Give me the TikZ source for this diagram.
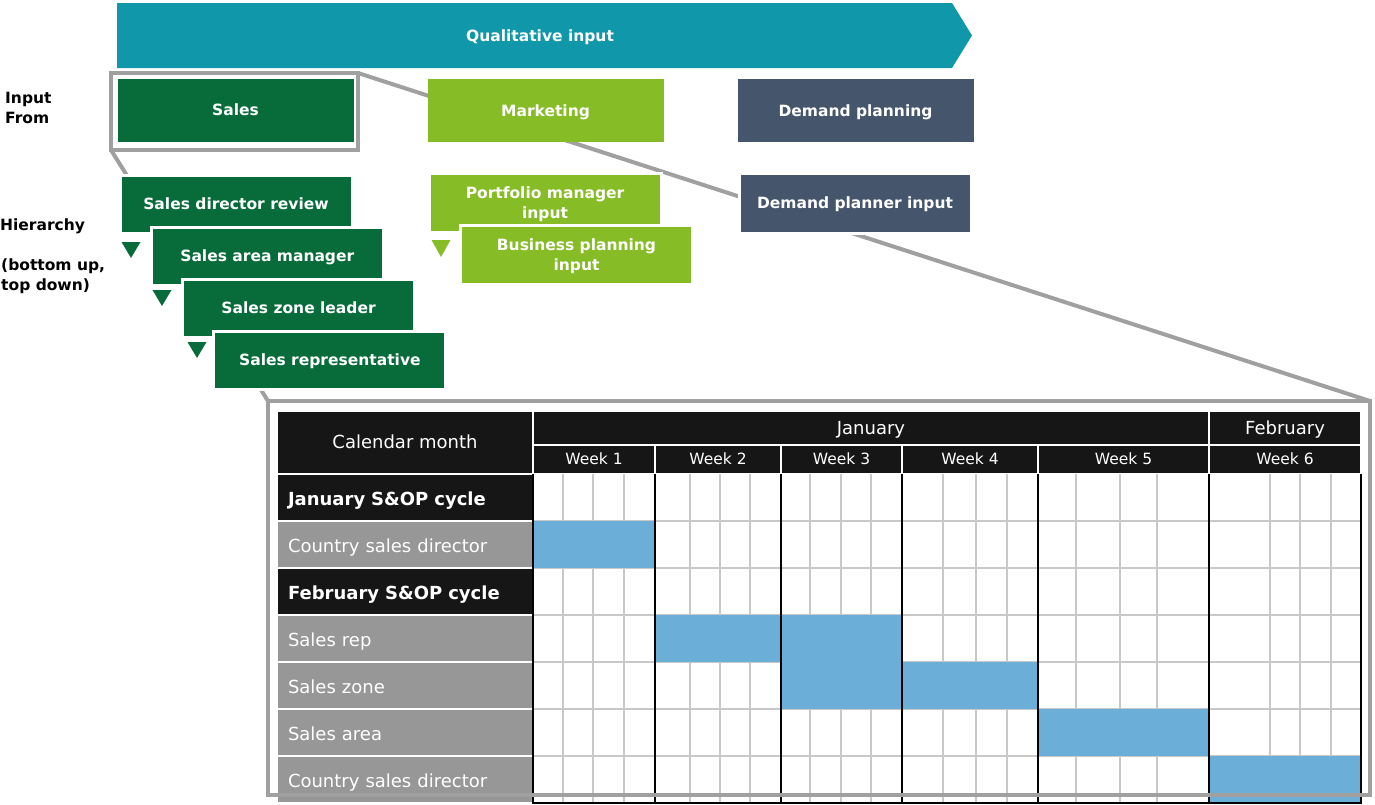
\documentclass[tikz,border=0pt]{standalone}
\usepackage{fontspec}
\setmainfont{DejaVu Sans}
\usetikzlibrary{positioning}

\definecolor{qualteal}{HTML}{1098AA}
\definecolor{salesgreen}{HTML}{086C3A}
\definecolor{mktgreen}{HTML}{86BC25}
\definecolor{planslate}{HTML}{45556C}
\definecolor{framegray}{HTML}{A0A0A0}
\definecolor{tblblack}{HTML}{161616}
\definecolor{rolegray}{HTML}{979797}
\definecolor{barblue}{HTML}{6BAFD8}
\definecolor{gridgray}{HTML}{C8C8C8}

\newcommand\boxfont{\fontsize{15.5}{20}\selectfont\bfseries}
\newcommand\tblfont{\fontsize{18}{22}\selectfont}
\newcommand\tblbold{\fontsize{18}{22}\selectfont\bfseries}
\newcommand\weekfont{\fontsize{15.5}{20}\selectfont}

\tikzset{
  box/.style={draw=white, line width=3pt, inner sep=0pt, outer sep=0pt, text=white, font=\boxfont, align=center, text depth=0pt},
  topbox/.style={box, minimum width=236pt, minimum height=63pt},
  hierbox/.style={box, fill=salesgreen, minimum width=232pt, minimum height=58pt},
  mktbox/.style={box, fill=mktgreen, minimum width=232pt, minimum height=59pt},
  framebox/.style={draw=framegray, line width=4pt, inner sep=0pt, outer sep=0pt},
  zoomline/.style={draw=framegray, line width=4pt},
  sidelabel/.style={inner sep=0pt, font=\boxfont, align=left, anchor=west, text depth=0pt},
  headcell/.style={fill=tblblack, draw=white, line width=1.5pt, inner sep=0pt, outer sep=0pt, text=white, font=\tblfont, anchor=north west, text height=14pt, text depth=2pt},
  rowcell/.style={draw=white, line width=1.5pt, inner xsep=11pt, inner ysep=0pt, outer sep=0pt, text=white, minimum width=256pt, minimum height=47pt, text width=234pt, align=left, anchor=north west, text height=16pt, text depth=1pt},
  gridline/.style={draw=gridgray, line width=1.5pt},
  weekline/.style={draw=black, line width=1.5pt}
}

\begin{document}
\begin{tikzpicture}[x=1pt,y=-1pt]
\useasboundingbox (0,0) rectangle (1375,804);

% table header
\node[headcell, minimum width=256pt, minimum height=63pt] (calmonth) at (277,411) {Calendar month};
\node[headcell, minimum width=676pt, minimum height=34pt] (jan) at (533,411) {January};
\node[headcell, minimum width=152pt, minimum height=34pt] (feb) at (1209,411) {February};
\foreach \a/\b/\n in {533/655/1,655/781/2,781/902/3,902/1038/4,1038/1209/5,1209/1361/6}
  \node[headcell, font=\weekfont, text height=12pt, minimum width={(\b-\a)*1pt}, minimum height=29pt] (week\n) at (\a,445) {Week \n};

% row labels
\foreach \i/\txt in {0/January S\&OP cycle,2/February S\&OP cycle}
  \node[rowcell, fill=tblblack, font=\tblbold] (row\i) at (277,474+47*\i) {\txt};
\foreach \i/\txt in {1/Country sales director,3/Sales rep,4/Sales zone,5/Sales area,6/Country sales director}
  \node[rowcell, fill=rolegray, font=\tblfont] (row\i) at (277,474+47*\i) {\txt};

% grid
\foreach \x in {563,593,624,690,720,750,810,841,871,943,976,1007,1076,1120,1157,1270,1300,1331}
  \draw[gridline] (\x,474) -- (\x,804);
\foreach \y in {521,568,615,662,709,756}
  \draw[gridline] (533,\y) -- (1361,\y);
\fill[barblue] (533,521) rectangle (655,568);
\fill[barblue] (655,615) rectangle (781,662);
\fill[barblue] (781,615) rectangle (902,709);
\fill[barblue] (902,662) rectangle (1038,709);
\fill[barblue] (1038,709) rectangle (1209,756);
\fill[barblue] (1209,756) rectangle (1361,803);
\foreach \x in {533,655,781,902,1038,1209,1361}
  \draw[weekline] (\x,474) -- (\x,804);
\draw[weekline] (533,803) -- (1361,803);

% zoom frames
\node[framebox, minimum width=1102pt, minimum height=394pt, anchor=north west] (tableframe) at (268,401) {};
\node[framebox, minimum width=247pt, minimum height=77pt, anchor=north west] (salesframe) at (111,73) {};
\draw[zoomline] (salesframe.south west) -- (tableframe.north west);
\draw[zoomline] (salesframe.north east) -- (tableframe.north east);

% qualitative input arrow
\fill[qualteal] (117,3) -- (952,3) -- (972,35.5) -- (952,68) -- (117,68) -- cycle;
\node[inner sep=0pt, text=white, font=\boxfont, text depth=0pt] (qualinput) at (540,35.5) {Qualitative input};

% input from
\node[topbox, fill=salesgreen, draw=none] (sales) at (235.5,110) {Sales};
\node[topbox, fill=mktgreen, draw=none] (marketing) at (545.5,110.5) {Marketing};
\node[topbox, fill=planslate, draw=none] (demand) at (855.5,110.5) {Demand planning};

% sales hierarchy
\foreach \txt [count=\i from 0] in {Sales director review,Sales area manager,Sales zone leader,Sales representative}
  \node[hierbox] (hier\i) at (236+31.3*\i,204+52*\i) {\txt};
\foreach \x/\y in {131/242,162/290,197/342}
  \fill[salesgreen] (\x-9.5,\y) -- (\x+9.5,\y) -- (\x,\y+16) -- cycle;

% marketing hierarchy
\node[mktbox] (portfolio) at (545,202.5) {Portfolio manager\\input};
\node[mktbox] (business) at (576.5,255) {Business planning\\input};
\fill[mktgreen] (431.5,240) -- (450.5,240) -- (441,257) -- cycle;

% demand planning
\node[box, fill=planslate, minimum width=232pt, minimum height=60pt] (planner) at (855,203) {Demand planner input};

% side labels
\node[sidelabel] (inputfrom) at (5,107.5) {Input\\From};
\node[sidelabel] (hierarchy) at (0,225) {Hierarchy};
\node[sidelabel] (bottomup) at (1,275) {(bottom up,\\top down)};
\end{tikzpicture}
\end{document}
